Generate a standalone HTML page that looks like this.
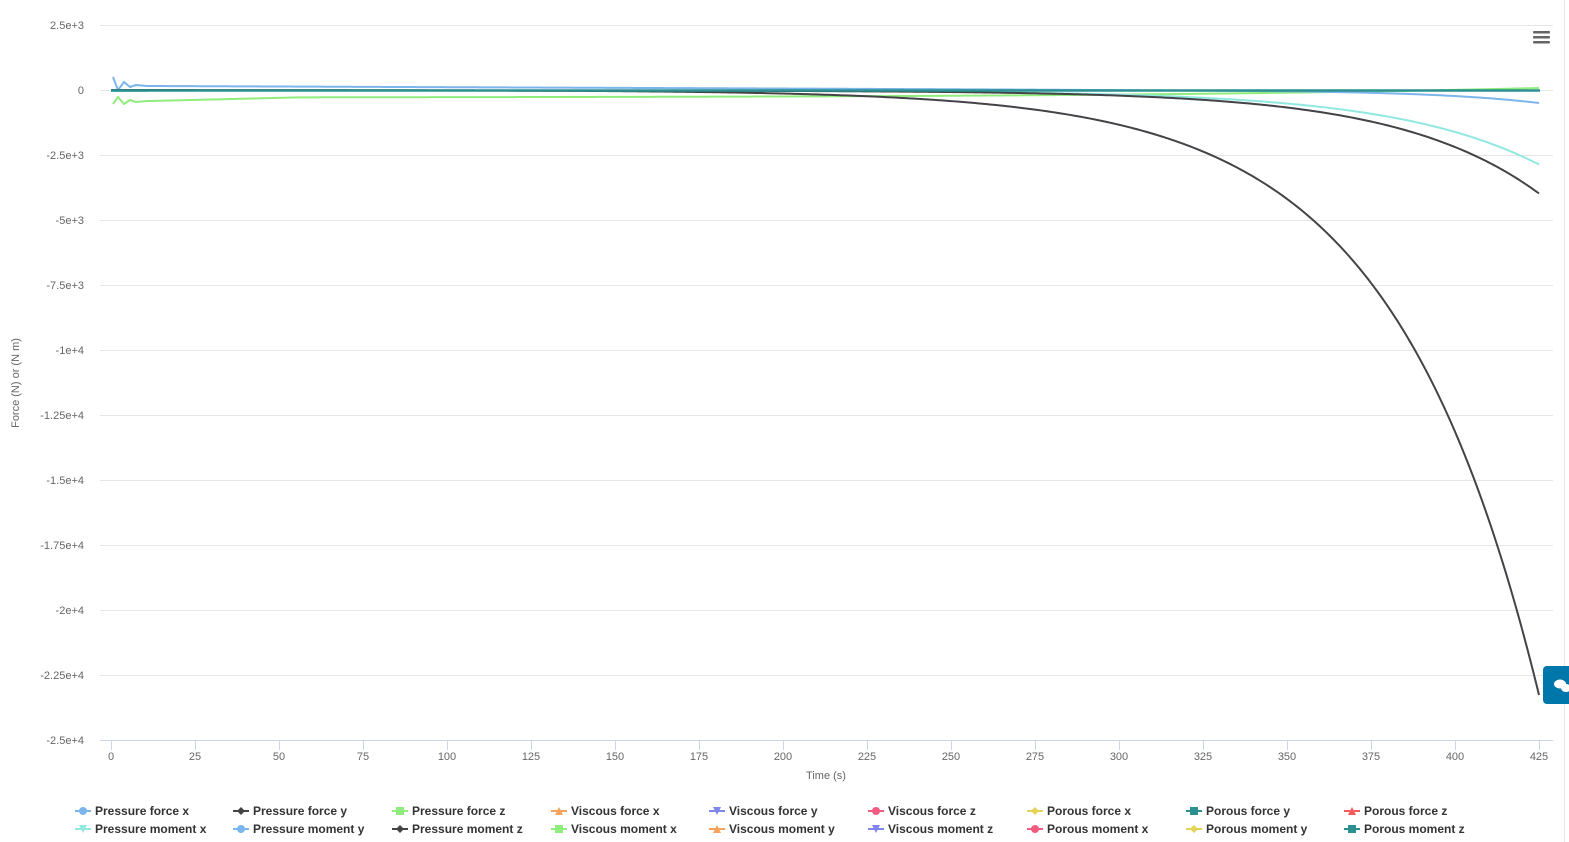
<!DOCTYPE html>
<html><head><meta charset="utf-8"><style>
body{margin:0;background:#fff;}
svg{display:block;font-family:"Liberation Sans",sans-serif;}
</style></head><body>
<svg id="s" width="1569" height="842" viewBox="0 0 1569 842" xmlns="http://www.w3.org/2000/svg">
<rect width="1569" height="842" fill="#fff"/>
<line x1="1564.5" y1="0" x2="1564.5" y2="842" stroke="#e6e6e6"/>
<g stroke="#e6e6e6" stroke-width="1">
<line x1="100" y1="25.5" x2="1553" y2="25.5"/>
<line x1="100" y1="90.5" x2="1553" y2="90.5"/>
<line x1="100" y1="155.5" x2="1553" y2="155.5"/>
<line x1="100" y1="220.5" x2="1553" y2="220.5"/>
<line x1="100" y1="285.5" x2="1553" y2="285.5"/>
<line x1="100" y1="350.5" x2="1553" y2="350.5"/>
<line x1="100" y1="415.5" x2="1553" y2="415.5"/>
<line x1="100" y1="480.5" x2="1553" y2="480.5"/>
<line x1="100" y1="545.5" x2="1553" y2="545.5"/>
<line x1="100" y1="610.5" x2="1553" y2="610.5"/>
<line x1="100" y1="675.5" x2="1553" y2="675.5"/>
</g>
<line x1="100" y1="740.5" x2="1553" y2="740.5" stroke="#ccd6eb"/>
<g stroke="#ccd6eb">
<line x1="111.5" y1="741" x2="111.5" y2="750"/><line x1="195.5" y1="741" x2="195.5" y2="750"/><line x1="279.5" y1="741" x2="279.5" y2="750"/><line x1="363.5" y1="741" x2="363.5" y2="750"/><line x1="447.5" y1="741" x2="447.5" y2="750"/><line x1="531.5" y1="741" x2="531.5" y2="750"/><line x1="615.5" y1="741" x2="615.5" y2="750"/><line x1="699.5" y1="741" x2="699.5" y2="750"/><line x1="783.5" y1="741" x2="783.5" y2="750"/><line x1="867.5" y1="741" x2="867.5" y2="750"/><line x1="951.5" y1="741" x2="951.5" y2="750"/><line x1="1035.5" y1="741" x2="1035.5" y2="750"/><line x1="1119.5" y1="741" x2="1119.5" y2="750"/><line x1="1203.5" y1="741" x2="1203.5" y2="750"/><line x1="1287.5" y1="741" x2="1287.5" y2="750"/><line x1="1371.5" y1="741" x2="1371.5" y2="750"/><line x1="1455.5" y1="741" x2="1455.5" y2="750"/><line x1="1539.5" y1="741" x2="1539.5" y2="750"/>
</g>
<g font-size="11" fill="#666" text-anchor="middle">
<text x="111" y="760">0</text><text x="195" y="760">25</text><text x="279" y="760">50</text><text x="363" y="760">75</text><text x="447" y="760">100</text><text x="531" y="760">125</text><text x="615" y="760">150</text><text x="699" y="760">175</text><text x="783" y="760">200</text><text x="867" y="760">225</text><text x="951" y="760">250</text><text x="1035" y="760">275</text><text x="1119" y="760">300</text><text x="1203" y="760">325</text><text x="1287" y="760">350</text><text x="1371" y="760">375</text><text x="1455" y="760">400</text><text x="1539" y="760">425</text>
</g>
<text x="826" y="779" font-size="11" fill="#666" text-anchor="middle">Time (s)</text>
<g font-size="11" fill="#666" text-anchor="end">
<text x="84" y="29">2.5e+3</text><text x="84" y="94">0</text><text x="84" y="159">-2.5e+3</text><text x="84" y="224">-5e+3</text><text x="84" y="289">-7.5e+3</text><text x="84" y="354">-1e+4</text><text x="84" y="419">-1.25e+4</text><text x="84" y="484">-1.5e+4</text><text x="84" y="549">-1.75e+4</text><text x="84" y="614">-2e+4</text><text x="84" y="679">-2.25e+4</text><text x="84" y="744">-2.5e+4</text>
</g>
<text transform="translate(19,383) rotate(-90)" font-size="11" fill="#666" text-anchor="middle">Force (N) or (N m)</text>
<g fill="none" stroke-width="2" stroke-linejoin="round">
<path id="g1" stroke="#90ed7d"/>
<path id="b1" stroke="#7cb5ec"/>
<path id="c1" stroke="#91e8e1"/>
<path id="d1" stroke="#434348"/>
<path id="d2" stroke="#434348"/>
<polyline stroke="#2b908f" stroke-width="2.5" points="111,90.5 1540,90.5"/>
</g>
<g fill="#666"><rect x="1533" y="31" width="17" height="2.5" rx="1"/><rect x="1533" y="36" width="17" height="2.5" rx="1"/><rect x="1533" y="41" width="17" height="2.5" rx="1"/></g>
<rect x="1543" y="666" width="30" height="38" rx="4" fill="#0077aa"/>
<ellipse cx="1560" cy="684" rx="6" ry="4.5" fill="#fff"/><ellipse cx="1566" cy="688" rx="5" ry="4" fill="#fff"/>
<g font-size="12" font-weight="bold" fill="#333">
<g transform="translate(75,811)"><line x1="0" y1="0" x2="16" y2="0" stroke="#7cb5ec" stroke-width="2"/><circle cx="8" cy="0" r="4" fill="#7cb5ec"/><text x="20" y="4">Pressure force x</text></g>
<g transform="translate(233,811)"><line x1="0" y1="0" x2="16" y2="0" stroke="#434348" stroke-width="2"/><path d="M8-4L12 0 8 4 4 0Z" fill="#434348"/><text x="20" y="4">Pressure force y</text></g>
<g transform="translate(392,811)"><line x1="0" y1="0" x2="16" y2="0" stroke="#90ed7d" stroke-width="2"/><rect x="4" y="-4" width="8" height="8" fill="#90ed7d"/><text x="20" y="4">Pressure force z</text></g>
<g transform="translate(551,811)"><line x1="0" y1="0" x2="16" y2="0" stroke="#f7a35c" stroke-width="2"/><path d="M8-4L12 4 4 4Z" fill="#f7a35c"/><text x="20" y="4">Viscous force x</text></g>
<g transform="translate(709,811)"><line x1="0" y1="0" x2="16" y2="0" stroke="#8085e9" stroke-width="2"/><path d="M4-4L12-4 8 4Z" fill="#8085e9"/><text x="20" y="4">Viscous force y</text></g>
<g transform="translate(868,811)"><line x1="0" y1="0" x2="16" y2="0" stroke="#f15c80" stroke-width="2"/><circle cx="8" cy="0" r="4" fill="#f15c80"/><text x="20" y="4">Viscous force z</text></g>
<g transform="translate(1027,811)"><line x1="0" y1="0" x2="16" y2="0" stroke="#e4d354" stroke-width="2"/><path d="M8-4L12 0 8 4 4 0Z" fill="#e4d354"/><text x="20" y="4">Porous force x</text></g>
<g transform="translate(1186,811)"><line x1="0" y1="0" x2="16" y2="0" stroke="#2b908f" stroke-width="2"/><rect x="4" y="-4" width="8" height="8" fill="#2b908f"/><text x="20" y="4">Porous force y</text></g>
<g transform="translate(1344,811)"><line x1="0" y1="0" x2="16" y2="0" stroke="#f45b5b" stroke-width="2"/><path d="M8-4L12 4 4 4Z" fill="#f45b5b"/><text x="20" y="4">Porous force z</text></g>
<g transform="translate(75,829)"><line x1="0" y1="0" x2="16" y2="0" stroke="#91e8e1" stroke-width="2"/><path d="M4-4L12-4 8 4Z" fill="#91e8e1"/><text x="20" y="4">Pressure moment x</text></g>
<g transform="translate(233,829)"><line x1="0" y1="0" x2="16" y2="0" stroke="#7cb5ec" stroke-width="2"/><circle cx="8" cy="0" r="4" fill="#7cb5ec"/><text x="20" y="4">Pressure moment y</text></g>
<g transform="translate(392,829)"><line x1="0" y1="0" x2="16" y2="0" stroke="#434348" stroke-width="2"/><path d="M8-4L12 0 8 4 4 0Z" fill="#434348"/><text x="20" y="4">Pressure moment z</text></g>
<g transform="translate(551,829)"><line x1="0" y1="0" x2="16" y2="0" stroke="#90ed7d" stroke-width="2"/><rect x="4" y="-4" width="8" height="8" fill="#90ed7d"/><text x="20" y="4">Viscous moment x</text></g>
<g transform="translate(709,829)"><line x1="0" y1="0" x2="16" y2="0" stroke="#f7a35c" stroke-width="2"/><path d="M8-4L12 4 4 4Z" fill="#f7a35c"/><text x="20" y="4">Viscous moment y</text></g>
<g transform="translate(868,829)"><line x1="0" y1="0" x2="16" y2="0" stroke="#8085e9" stroke-width="2"/><path d="M4-4L12-4 8 4Z" fill="#8085e9"/><text x="20" y="4">Viscous moment z</text></g>
<g transform="translate(1027,829)"><line x1="0" y1="0" x2="16" y2="0" stroke="#f15c80" stroke-width="2"/><circle cx="8" cy="0" r="4" fill="#f15c80"/><text x="20" y="4">Porous moment x</text></g>
<g transform="translate(1186,829)"><line x1="0" y1="0" x2="16" y2="0" stroke="#e4d354" stroke-width="2"/><path d="M8-4L12 0 8 4 4 0Z" fill="#e4d354"/><text x="20" y="4">Porous moment y</text></g>
<g transform="translate(1344,829)"><line x1="0" y1="0" x2="16" y2="0" stroke="#2b908f" stroke-width="2"/><rect x="4" y="-4" width="8" height="8" fill="#2b908f"/><text x="20" y="4">Porous moment z</text></g>
</g>
</svg>
<script>
function gen(start, f){var s=start||"";var first=!start;for(var x=150;x<=1539;x+=3){var y=f(x);s+=(first?"M":" L")+x+","+y.toFixed(2);first=false;}
s+=" L1539,"+f(1539).toFixed(2);return s;}
var e=Math.exp;
document.getElementById("d2").setAttribute("d","M111,90 L147,90"+gen(" ",function(x){return 90+605*e((x-1539)/147);}).replace(/^ /," "));
document.getElementById("d1").setAttribute("d","M111,90.5 L147,90.5"+gen(" ",function(x){return 90.5+103*e((x-1539)/140);}));
document.getElementById("c1").setAttribute("d","M111,91 L147,91"+gen(" ",function(x){return 90.5+74*e((x-1539)/145);}));
document.getElementById("b1").setAttribute("d","M113,77 L118,90 L124,82 L130,87 L136,85 L147,86"+gen(" ",function(x){return 86+4*Math.min(1,(x-150)/1000)+13*e((x-1539)/110);}));
document.getElementById("g1").setAttribute("d","M113,104 L118,97 L124,104 L130,100 L136,102 L147,101"+gen(" ",function(x){var t=(x-150)/1389;return 101-3.5*Math.min(1,(x-150)/150)-1.5*t-8*Math.pow(t,4);}));
</script>
</body></html>
